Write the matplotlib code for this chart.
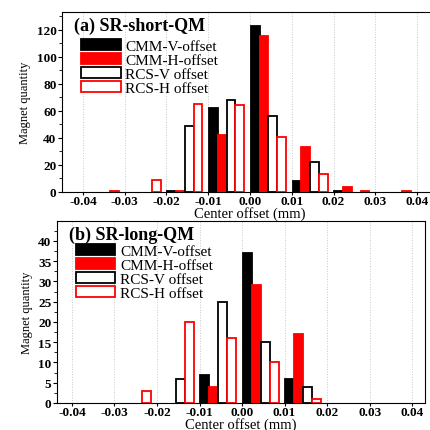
import numpy as np
import matplotlib.pyplot as plt
from matplotlib.patches import Patch
from matplotlib.ticker import MultipleLocator, AutoMinorLocator

plt.rcParams['font.family'] = 'Liberation Serif'
plt.rcParams['font.weight'] = 'bold'

# bin start of each group (mm)
bins = [-0.04, -0.03, -0.02, -0.01, 0.00, 0.01, 0.02, 0.03]

# (a) SR-short-QM counts
short_cmm_v = [0, 0, 1, 62, 123, 8, 1, 0]
short_cmm_h = [0, 0, 1, 42, 115, 33, 4, 0]
short_rcs_v = [0, 0, 49, 68, 56, 22, 0, 0]
short_rcs_h = [1, 9, 65, 64, 41, 13, 1, 1]

# (b) SR-long-QM counts
long_cmm_v = [0, 0, 0, 7, 37, 6, 0, 0]
long_cmm_h = [0, 0, 0, 4, 29, 17, 0, 0]
long_rcs_v = [0, 0, 6, 25, 15, 4, 0, 0]
long_rcs_h = [0, 3, 20, 16, 10, 1, 0, 0]

labels = ['CMM-V-offset', 'CMM-H-offset', 'RCS-V offset', 'RCS-H offset']
faces = ['black', 'red', 'white', 'white']
edges = ['black', 'red', 'black', 'red']

w = 0.0021


def plot_panel(ax, series, title, ymax, ystep, leg_y):
    for i, counts in enumerate(series):
        x = np.array(bins) + 0.0002 + i * w
        c = np.array(counts)
        keep = c > 0
        ax.bar(x[keep], c[keep], width=w, align='edge', color=faces[i],
               edgecolor=edges[i], linewidth=1.3, zorder=3)
    ax.set_ylim(0, ymax)
    ax.xaxis.set_major_locator(MultipleLocator(0.01))
    ax.yaxis.set_major_locator(MultipleLocator(ystep))
    ax.yaxis.set_minor_locator(AutoMinorLocator(2))
    ax.xaxis.set_major_formatter(plt.FuncFormatter(lambda v, p: '%.2f' % v))
    ax.tick_params(direction='out', labelsize=9.5, length=3, pad=1)
    ax.tick_params(axis='x', length=2, pad=0.5)
    ax.tick_params(which='minor', direction='out', length=2)
    ax.grid(axis='x', color='#c8c8c8', linestyle=':', linewidth=0.7, zorder=0)
    ax.set_xlabel('Center offset (mm)', fontsize=10.5, labelpad=-1)
    ax.set_ylabel('Magnet quantity', fontsize=9, labelpad=4)
    handles = [Patch(facecolor=faces[i], edgecolor=edges[i], linewidth=1.3)
               for i in range(4)]
    ax.text(0.033, 0.975, title, transform=ax.transAxes, fontsize=13,
            va='top', ha='left')
    ax.legend(handles, labels, loc='upper left', bbox_to_anchor=(0.03, leg_y),
              frameon=False, handlelength=2.6, handleheight=0.7,
              labelspacing=0.02, handletextpad=0.3, borderpad=0,
              prop={'family': 'Liberation Serif', 'weight': 'normal', 'size': 11})


fig = plt.figure(figsize=(4.30, 4.31), dpi=100)
ax1 = fig.add_axes([62/430, 1 - 193/431, 376/430, 180/431])
ax2 = fig.add_axes([57/430, 1 - 404/431, 368/430, 182/431])

plot_panel(ax1, [short_cmm_v, short_cmm_h, short_rcs_v, short_rcs_h],
           '(a) SR-short-QM', 133, 20, 0.89)
ax1.set_xlim(-0.045, 0.045)

plot_panel(ax2, [long_cmm_v, long_cmm_h, long_rcs_v, long_rcs_h],
           '(b) SR-long-QM', 44.9, 5, 0.915)
ax2.set_xlim(-0.0435, 0.043)

fig.savefig('out.png', dpi=100)
